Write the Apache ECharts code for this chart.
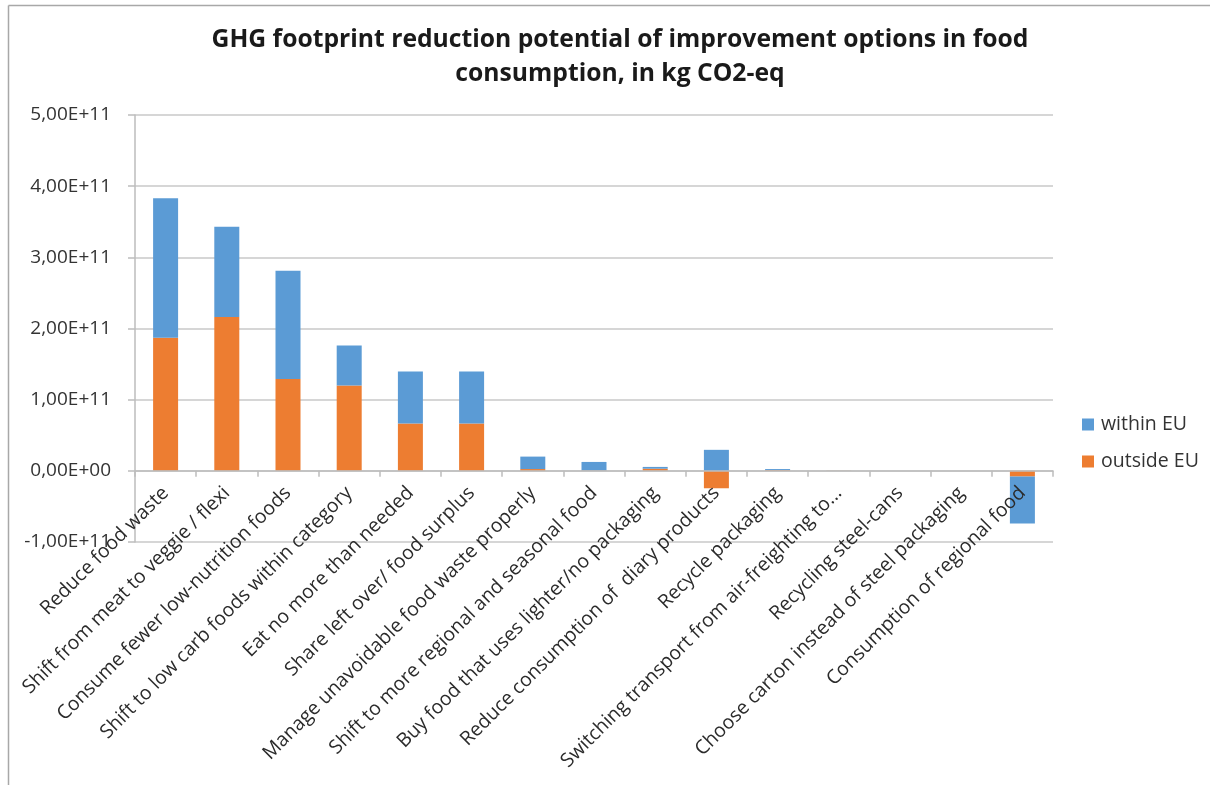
<!DOCTYPE html>
<html>
<head>
<meta charset="utf-8">
<script src="https://cdn.jsdelivr.net/npm/echarts@6/dist/echarts.min.js"></script>
<style>
html,body{margin:0;padding:0;background:#fff;}
#chart{width:1210px;height:785px;}
</style>
</head>
<body>
<div id="chart"></div>
<script>
const titleText = 'GHG footprint reduction potential of improvement options in food\nconsumption, in kg CO2-eq';
const categories = [
  'Reduce food waste',
  'Shift from meat to veggie / flexi',
  'Consume fewer low-nutrition foods',
  'Shift to low carb foods within category',
  'Eat no more than needed',
  'Share left over/ food surplus',
  'Manage unavoidable food waste properly',
  'Shift to more regional and seasonal food',
  'Buy food that uses lighter/no packaging',
  'Reduce consumption of  diary products',
  'Recycle packaging',
  'Switching transport from air-freighting to...',
  'Recycling steel-cans',
  'Choose carton instead of steel packaging',
  'Consumption of regional food'
];
const outsideEU = [1.87e11, 2.16e11, 1.29e11, 1.20e11, 0.665e11, 0.665e11, 0.025e11, 0.005e11, 0.03e11, -0.245e11, 0.01e11, 0.002e11, 0, 0, -0.08e11];
const withinEU  = [1.96e11, 1.27e11, 1.52e11, 0.56e11, 0.73e11, 0.73e11, 0.175e11, 0.12e11, 0.025e11, 0.295e11, 0.015e11, 0.001e11, 0, 0, -0.66e11];
const yTickLabels = ['-1,00E+11','0,00E+00','1,00E+11','2,00E+11','3,00E+11','4,00E+11','5,00E+11'];
const yMin = -1e11, yMax = 5e11, yInterval = 1e11;

const FONT = "'Open Sans', 'Liberation Sans', sans-serif";
const chart = echarts.init(document.getElementById('chart'));
chart.setOption({
  animation: false,
  backgroundColor: '#ffffff',
  title: {
    text: titleText,
    left: 615, textAlign: 'center',
    top: 18,
    textStyle: { fontFamily: FONT, fontWeight: 'bold', fontSize: 24.7, lineHeight: 34, color: '#1a1a1a' }
  },
  graphic: [
    { type: 'line', shape: { x1: 8.5, y1: 5.5, x2: 1210, y2: 5.5 }, style: { stroke: '#a8a8a8', lineWidth: 1.5 } },
    { type: 'line', shape: { x1: 8.5, y1: 5.5, x2: 8.5, y2: 785 }, style: { stroke: '#a8a8a8', lineWidth: 1.5 } }
  ],
  legend: {
    orient: 'vertical',
    left: 1077, top: 409,
    itemWidth: 12, itemHeight: 12, itemGap: 16,
    icon: 'rect',
    data: ['within EU', 'outside EU'],
    textStyle: { fontFamily: FONT, fontSize: 19.5, color: '#333', lineHeight: 21, padding: [0,0,0,2] }
  },
  grid: { left: 135, right: 157, top: 115, bottom: 243, containLabel: false },
  xAxis: {
    type: 'category',
    z: 3,
    data: categories,
    axisLine: { onZero: true, lineStyle: { color: '#bdbdbd', width: 1.5 } },
    axisTick: { show: true, length: 6, inside: false, lineStyle: { color: '#bdbdbd', width: 1.5 } },
    axisLabel: { rotate: 45, interval: 0, margin: -52, fontFamily: FONT, fontSize: 19.5, color: '#2b2b2b' },
    splitLine: { show: false }
  },
  yAxis: {
    type: 'value',
    min: yMin, max: yMax, interval: yInterval,
    axisLine: { show: true, lineStyle: { color: '#bdbdbd', width: 1.5 } },
    axisTick: { show: true, length: 7, lineStyle: { color: '#bdbdbd', width: 1.5 } },
    axisLabel: {
      margin: 24, fontFamily: FONT, fontSize: 19, color: '#333',
      formatter: v => yTickLabels[Math.round((v - yMin) / yInterval)]
    },
    splitLine: { show: true, lineStyle: { color: '#c8c8c8', width: 1.5 } }
  },
  series: [
    { name: 'outside EU', type: 'bar', stack: 'total', data: outsideEU, barWidth: 25,
      itemStyle: { color: '#ED7D31' } },
    { name: 'within EU', type: 'bar', stack: 'total', data: withinEU, barWidth: 25,
      itemStyle: { color: '#5B9BD5' } }
  ]
});
</script>
</body>
</html>
